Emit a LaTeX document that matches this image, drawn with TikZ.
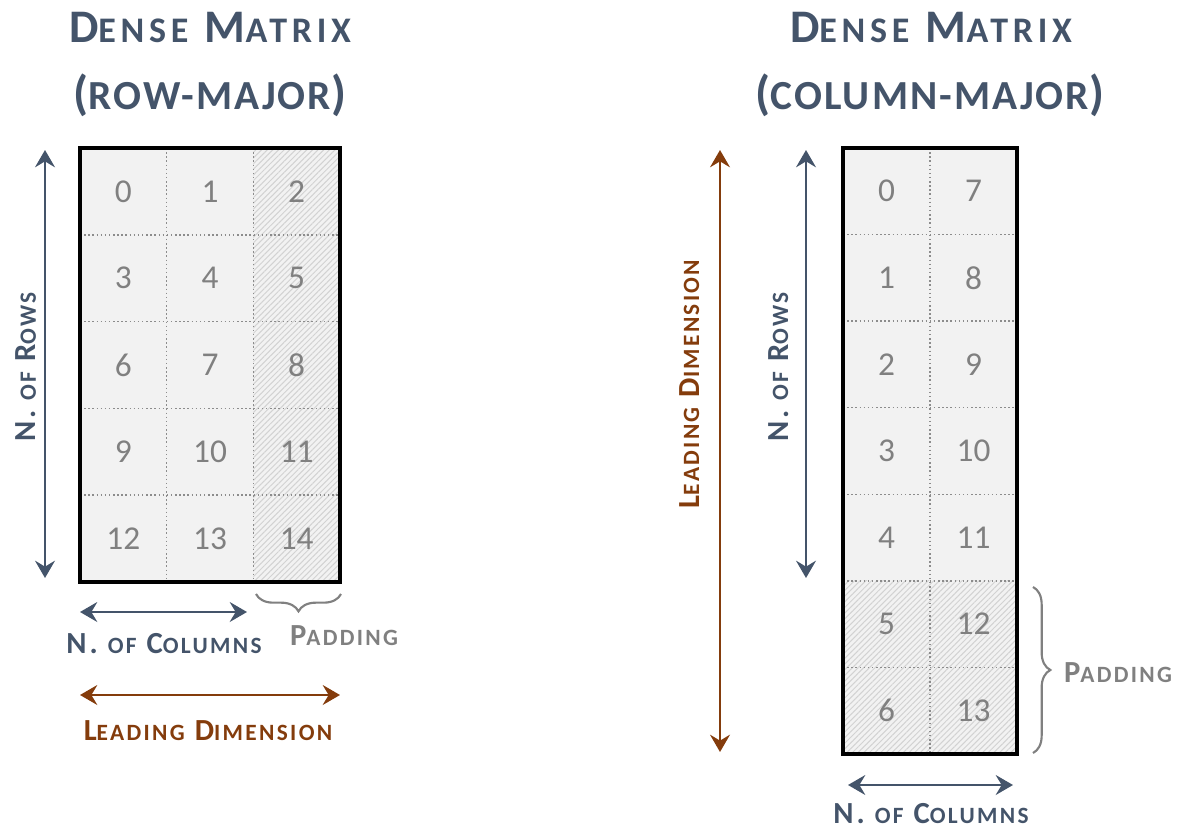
\documentclass[tikz,border=0pt]{standalone}
\usepackage{fontspec}
\setmainfont{Carlito}
\usetikzlibrary{arrows.meta,patterns.meta,decorations.pathreplacing}
\definecolor{slate}{HTML}{44546A}
\definecolor{brn}{HTML}{843C0C}
\definecolor{txtgray}{HTML}{808080}
\definecolor{cellfill}{HTML}{F2F2F2}
\definecolor{hatchc}{HTML}{D2D2D2}
\definecolor{gridc}{HTML}{8C8C8C}
\newcommand\tsc[1]{{\fontsize{27}{30}\selectfont #1}}
\newcommand\tsb[1]{{\fontsize{31}{34}\selectfont #1}}
\newcommand\lsc[1]{{\fontsize{17.5}{20}\selectfont #1}}
\begin{document}
\begin{tikzpicture}[x=0.75pt,y=-0.75pt,
  num/.style={font=\fontsize{25}{25}\selectfont, text=txtgray, inner sep=0pt},
  ttl/.style={font=\fontsize{35}{40}\selectfont\bfseries\addfontfeature{LetterSpace=13}, text=slate, anchor=base, inner sep=0pt},
  ttlb/.style={font=\fontsize{36}{40}\selectfont\bfseries\addfontfeature{LetterSpace=5}, text=slate, anchor=base, inner sep=0pt},
  lbl/.style={font=\fontsize{23}{26}\selectfont\bfseries\addfontfeature{LetterSpace=10}, anchor=base, inner sep=0pt},
  dimarr/.style={line width=1.5pt, {Stealth[length=13pt,width=15pt,inset=4.5pt]}-{Stealth[length=13pt,width=15pt,inset=4.5pt]}},
  gridline/.style={draw=gridc, line width=1.1pt, dotted},
  frame/.style={draw=black, line width=2.3pt},
  cellbox/.style={fill=cellfill},
  padbox/.style={fill=cellfill, postaction={pattern={Lines[angle=45,distance=3pt,line width=0.75pt]}, pattern color=hatchc}},
  brc/.style={draw=txtgray, line width=1.6pt, decorate, decoration={brace, amplitude=13pt, aspect=0.5}}
]
\useasboundingbox (0,0) rectangle (1180,830);

% ---------------- Left matrix (row-major) ----------------
\def\LX{80}\def\LY{148}\def\LW{86.667}\def\LH{86.8}
\foreach \r in {0,...,4}{
  \foreach \c in {0,1,2}{
    \pgfmathsetmacro\xa{\LX+\c*\LW}
    \pgfmathsetmacro\ya{\LY+\r*\LH}
    \pgfmathsetmacro\xb{\xa+\LW}
    \pgfmathsetmacro\yb{\ya+\LH}
    \pgfmathtruncatemacro\n{3*\r+\c}
    \ifnum\c=2
      \path[padbox] (\xa,\ya) rectangle (\xb,\yb);
    \else
      \path[cellbox] (\xa,\ya) rectangle (\xb,\yb);
    \fi
    \node[num] (L-\r-\c) at ({(\xa+\xb)/2},{(\ya+\yb)/2}) {\n};
  }
}
\foreach \c in {1,2}{ \draw[gridline] ({\LX+\c*\LW},148) -- ({\LX+\c*\LW},582); }
\foreach \r in {1,...,4}{ \draw[gridline] (80,{\LY+\r*\LH}) -- (340,{\LY+\r*\LH}); }
\draw[frame] (80,148) rectangle (340,582);

% ---------------- Right matrix (column-major) ----------------
\def\RX{843}\def\RY{148}\def\RW{87}\def\RH{86.57}
\foreach \r in {0,...,6}{
  \foreach \c in {0,1}{
    \pgfmathsetmacro\xa{\RX+\c*\RW}
    \pgfmathsetmacro\ya{\RY+\r*\RH}
    \pgfmathsetmacro\xb{\xa+\RW}
    \pgfmathsetmacro\yb{\ya+\RH}
    \pgfmathtruncatemacro\n{7*\c+\r}
    \ifnum\r>4
      \path[padbox] (\xa,\ya) rectangle (\xb,\yb);
    \else
      \path[cellbox] (\xa,\ya) rectangle (\xb,\yb);
    \fi
    \node[num] (R-\r-\c) at ({(\xa+\xb)/2},{(\ya+\yb)/2}) {\n};
  }
}
\draw[gridline] (930,148) -- (930,754);
\foreach \r in {1,...,6}{ \draw[gridline] (843,{\RY+\r*\RH}) -- (1017,{\RY+\r*\RH}); }
\draw[frame] (843,148) rectangle (1017,754);

% ---------------- Titles ----------------
\node[ttl] (t1a) at (210,43) {D\tsc{ENSE} M\tsc{ATRIX}};
\node[ttlb] (t1b) at (210,110) {(\tsb{ROW-MAJOR})};
\node[ttl] (t2a) at (931,43) {D\tsc{ENSE} M\tsc{ATRIX}};
\node[ttlb] (t2b) at (930,110) {(\tsb{COLUMN-MAJOR})};

% ---------------- Left annotations ----------------
\coordinate (lr1) at (45,150); \coordinate (lr2) at (45,578);
\draw[dimarr, slate] (lr1) -- (lr2);
\node[lbl, text=slate, rotate=90] (lrows) at (36,367) {N. \lsc{OF} R\lsc{OWS}};

\coordinate (lc1) at (80,612); \coordinate (lc2) at (247,612);
\draw[dimarr, slate] (lc1) -- (lc2);
\node[lbl, text=slate] (lcols) at (164,653) {N. \lsc{OF} C\lsc{OLUMNS}};

\coordinate (lb1) at (341,594); \coordinate (lb2) at (256,594);
\draw[brc] (lb1) -- (lb2);
\node[lbl, text=txtgray] (lpad) at (344,645) {P\lsc{ADDING}};

\coordinate (ll1) at (80,695); \coordinate (ll2) at (340,695);
\draw[dimarr, brn] (ll1) -- (ll2);
\node[lbl, text=brn] (lld) at (208,740) {L\lsc{EADING} D\lsc{IMENSION}};

% ---------------- Right annotations ----------------
\coordinate (rl1) at (720,150); \coordinate (rl2) at (720,752);
\draw[dimarr, brn] (rl1) -- (rl2);
\node[lbl, text=brn, rotate=90] (rld) at (699,384) {L\lsc{EADING} D\lsc{IMENSION}};

\coordinate (rr1) at (806,150); \coordinate (rr2) at (806,578);
\draw[dimarr, slate] (rr1) -- (rr2);
\node[lbl, text=slate, rotate=90] (rrows) at (788,367) {N. \lsc{OF} R\lsc{OWS}};

\coordinate (rb1) at (1033,587); \coordinate (rb2) at (1033,753);
\draw[brc] (rb1) -- (rb2);
\node[lbl, text=txtgray] (rpad) at (1118,682) {P\lsc{ADDING}};

\coordinate (rc1) at (848,785); \coordinate (rc2) at (1013,785);
\draw[dimarr, slate] (rc1) -- (rc2);
\node[lbl, text=slate] (rcols) at (931,823) {N. \lsc{OF} C\lsc{OLUMNS}};
\end{tikzpicture}
\end{document}
